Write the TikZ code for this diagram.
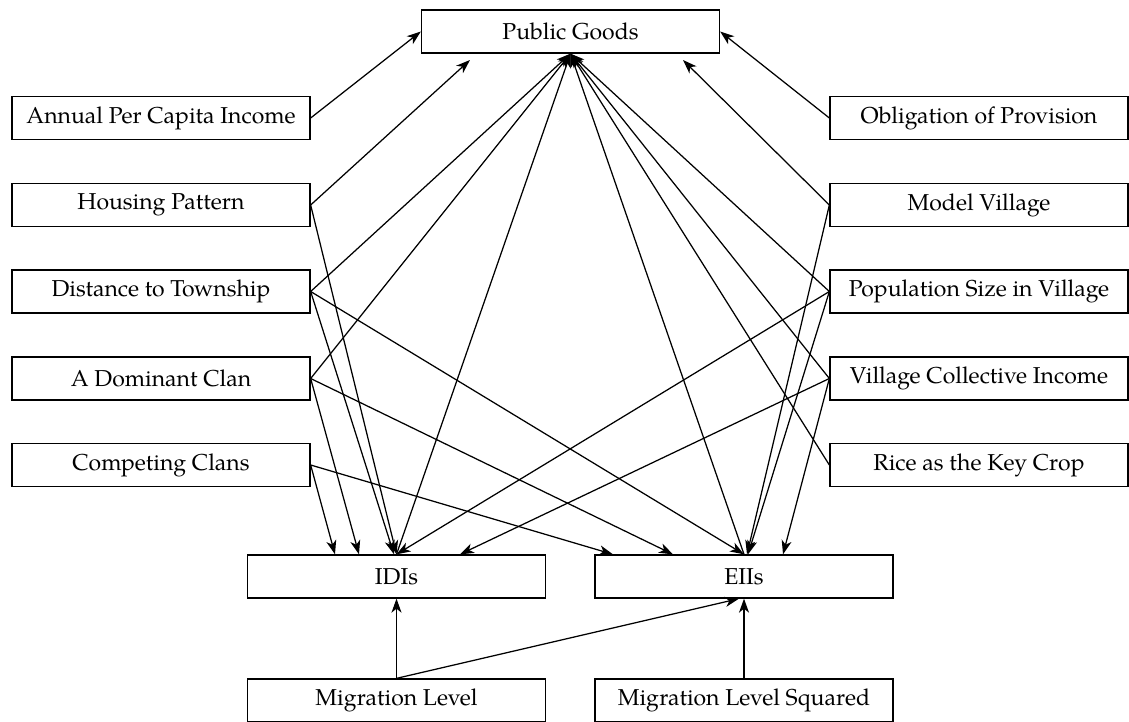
\documentclass[tikz,border=0pt]{standalone}
\usepackage{fontspec}
\setmainfont{TeX Gyre Pagella}
\usetikzlibrary{arrows.meta,calc}
\begin{document}
\begin{tikzpicture}[x=1pt,y=-1pt,
  box/.style={draw,line width=1.3pt,minimum width=298pt,minimum height=43pt,inner sep=0pt,
    font=\fontsize{23}{27}\selectfont},
  arr/.style={-{Stealth[length=14pt,width=10pt,inset=4pt]},line width=1.25pt}]
\useasboundingbox (0,0) rectangle (1129,722);
% nodes
\node[box] (pg) at (570.5,31.5) {Public Goods};
\node[box] (api) at (161,118) {Annual Per Capita Income};
\node[box] (hp)  at (161,205) {Housing Pattern};
\node[box] (dt)  at (161,291.5) {Distance to Township};
\node[box] (dc)  at (161,378.5) {A Dominant Clan};
\node[box] (cc)  at (161,465) {Competing Clans};
\node[box] (op)  at (979,118) {Obligation of Provision};
\node[box] (mv)  at (979,205) {Model Village};
\node[box] (ps)  at (979,291.5) {Population Size in Village};
\node[box] (vc)  at (979,378.5) {Village Collective Income};
\node[box] (rc)  at (979,465) {Rice as the Key Crop};
\node[box] (idi) at (396.5,576.5) {IDIs};
\node[box] (eii) at (744,576.5) {EIIs};
\node[box] (ml)  at (396.5,700.5) {Migration Level};
\node[box] (mls) at (744,700.5) {Migration Level Squared};
% free ends
\coordinate (hptip) at (470,60);
\coordinate (mvtip) at (683,60);
% to Public Goods
\draw[arr] (api.east) -- (pg.west);
\draw[arr] (op.west) -- (pg.east);
\draw[arr] (hp.east) -- (hptip);
\draw[arr] (mv.west) -- (mvtip);
\draw[arr] (dt.east) -- (pg.south);
\draw[arr] (dc.east) -- (pg.south);
\draw[arr] (idi.north) -- (pg.south);
\draw[arr] (eii.north) -- (pg.south);
\draw[arr] (ps.west) -- (pg.south);
\draw[arr] (vc.west) -- (pg.south);
\draw[arr] (rc.west) -- (pg.south);
% to IDIs
\draw[arr] (cc.east) -- ($(idi.north)+(-61.5,0)$);
\draw[arr] (dc.east) -- ($(idi.north)+(-37.5,0)$);
\draw[arr] (dt.east) -- ($(idi.north)+(-2.5,0)$);
\draw[arr] (hp.east) -- (idi.north);
\draw[arr] (ps.west) -- (idi.north);
\draw[arr] (vc.west) -- ($(idi.north)+(63.5,0)$);
% to EIIs
\draw[arr] (cc.east) -- ($(eii.north)+(-131,0)$);
\draw[arr] (dc.east) -- ($(eii.north)+(-71,0)$);
\draw[arr] (dt.east) -- (eii.north);
\draw[arr] (mv.west) -- ($(eii.north)+(3,0)$);
\draw[arr] (ps.west) -- ($(eii.north)+(4,0)$);
\draw[arr] (vc.west) -- ($(eii.north)+(39,0)$);
% bottom
\draw[arr] (ml.north) -- (idi.south);
\draw[arr] (ml.north) -- ($(eii.south)+(-5,0)$);
\draw[arr] (mls.north) -- (eii.south);
\end{tikzpicture}
\end{document}
